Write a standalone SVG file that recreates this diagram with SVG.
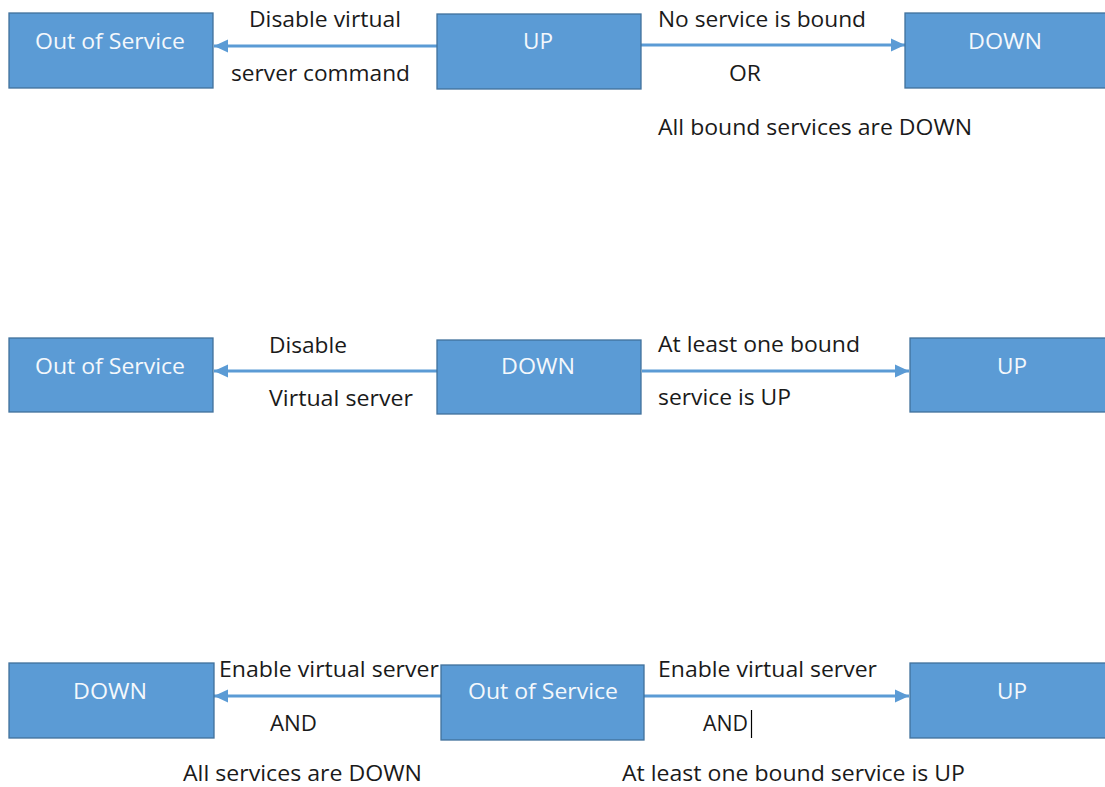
<svg xmlns="http://www.w3.org/2000/svg" width="1105" height="787" viewBox="0 0 1105 787">
<style>
.box{fill:#5B9BD5;stroke:#41719C;stroke-width:1.3}
.bt{font-family:"Open Sans","Noto Sans",sans-serif;font-size:21px;fill:#F4F8FC;text-anchor:middle}
.lb{font-family:"Open Sans","Noto Sans",sans-serif;font-size:21px;fill:#1a1a1a}
.ar{stroke:#5B9BD5;stroke-width:2.8;fill:none;marker-end:url(#ah)}
</style>
<defs>
<marker id="ah" markerUnits="userSpaceOnUse" markerWidth="15" markerHeight="15" refX="14" refY="7.5" orient="auto">
<path d="M0,1 L14,7.5 L0,14 Z" fill="#5B9BD5"/>
</marker>
</defs>
<rect width="1105" height="787" fill="#FFFFFF"/>
<g id="connectors">
<line class="ar" x1="437" y1="46" x2="214" y2="46"/>
<line class="ar" x1="641" y1="45" x2="905" y2="45"/>
<line class="ar" x1="437" y1="371" x2="214" y2="371"/>
<line class="ar" x1="642" y1="371" x2="909" y2="371"/>
<line class="ar" x1="441" y1="696" x2="214" y2="696"/>
<line class="ar" x1="644" y1="696" x2="909" y2="696"/>
</g>
<g id="r1-oos"><rect class="box" x="9" y="13" width="204" height="75"/><text class="bt" x="110" y="49" textLength="150" lengthAdjust="spacingAndGlyphs">Out of Service</text></g>
<g id="r1-up"><rect class="box" x="437" y="14" width="204" height="75"/><text class="bt" x="538" y="49" textLength="30" lengthAdjust="spacingAndGlyphs">UP</text></g>
<g id="r1-down"><rect class="box" x="905" y="13" width="204" height="75"/><text class="bt" x="1005" y="49" textLength="74" lengthAdjust="spacingAndGlyphs">DOWN</text></g>
<g id="r2-oos"><rect class="box" x="9" y="338" width="204" height="74"/><text class="bt" x="110" y="374" textLength="150" lengthAdjust="spacingAndGlyphs">Out of Service</text></g>
<g id="r2-down"><rect class="box" x="437" y="340" width="204" height="74"/><text class="bt" x="538" y="374" textLength="74" lengthAdjust="spacingAndGlyphs">DOWN</text></g>
<g id="r2-up"><rect class="box" x="910" y="338" width="200" height="74"/><text class="bt" x="1012" y="374" textLength="30" lengthAdjust="spacingAndGlyphs">UP</text></g>
<g id="r3-down"><rect class="box" x="9" y="663" width="205" height="75"/><text class="bt" x="110" y="699" textLength="74" lengthAdjust="spacingAndGlyphs">DOWN</text></g>
<g id="r3-oos"><rect class="box" x="441" y="665" width="203" height="75"/><text class="bt" x="543" y="699" textLength="150" lengthAdjust="spacingAndGlyphs">Out of Service</text></g>
<g id="r3-up"><rect class="box" x="910" y="663" width="200" height="75"/><text class="bt" x="1012" y="699" textLength="30" lengthAdjust="spacingAndGlyphs">UP</text></g>
<g id="labels">
<text class="lb" x="249" y="27" textLength="152" lengthAdjust="spacingAndGlyphs">Disable virtual</text>
<text class="lb" x="231" y="81" textLength="179" lengthAdjust="spacingAndGlyphs">server command</text>
<text class="lb" x="658" y="27" textLength="208" lengthAdjust="spacingAndGlyphs">No service is bound</text>
<text class="lb" x="729" y="81" textLength="32" lengthAdjust="spacingAndGlyphs">OR</text>
<text class="lb" x="658" y="135" textLength="314" lengthAdjust="spacingAndGlyphs">All bound services are DOWN</text>
<text class="lb" x="269" y="353" textLength="78" lengthAdjust="spacingAndGlyphs">Disable</text>
<text class="lb" x="269" y="406" textLength="144" lengthAdjust="spacingAndGlyphs">Virtual server</text>
<text class="lb" x="658" y="352" textLength="202" lengthAdjust="spacingAndGlyphs">At least one bound</text>
<text class="lb" x="658" y="405" textLength="133" lengthAdjust="spacingAndGlyphs">service is UP</text>
<text class="lb" x="219" y="677" textLength="220" lengthAdjust="spacingAndGlyphs">Enable virtual server</text>
<text class="lb" x="270" y="731" textLength="47" lengthAdjust="spacingAndGlyphs">AND</text>
<text class="lb" x="183" y="781" textLength="239" lengthAdjust="spacingAndGlyphs">All services are DOWN</text>
<text class="lb" x="658" y="677" textLength="219" lengthAdjust="spacingAndGlyphs">Enable virtual server</text>
<text class="lb" x="703" y="731" textLength="45" lengthAdjust="spacingAndGlyphs">AND</text>
<text class="lb" x="622" y="781" textLength="343" lengthAdjust="spacingAndGlyphs">At least one bound service is UP</text>
</g>
<line x1="751.5" y1="710" x2="751.5" y2="738" stroke="#000" stroke-width="1.2"/>
</svg>
